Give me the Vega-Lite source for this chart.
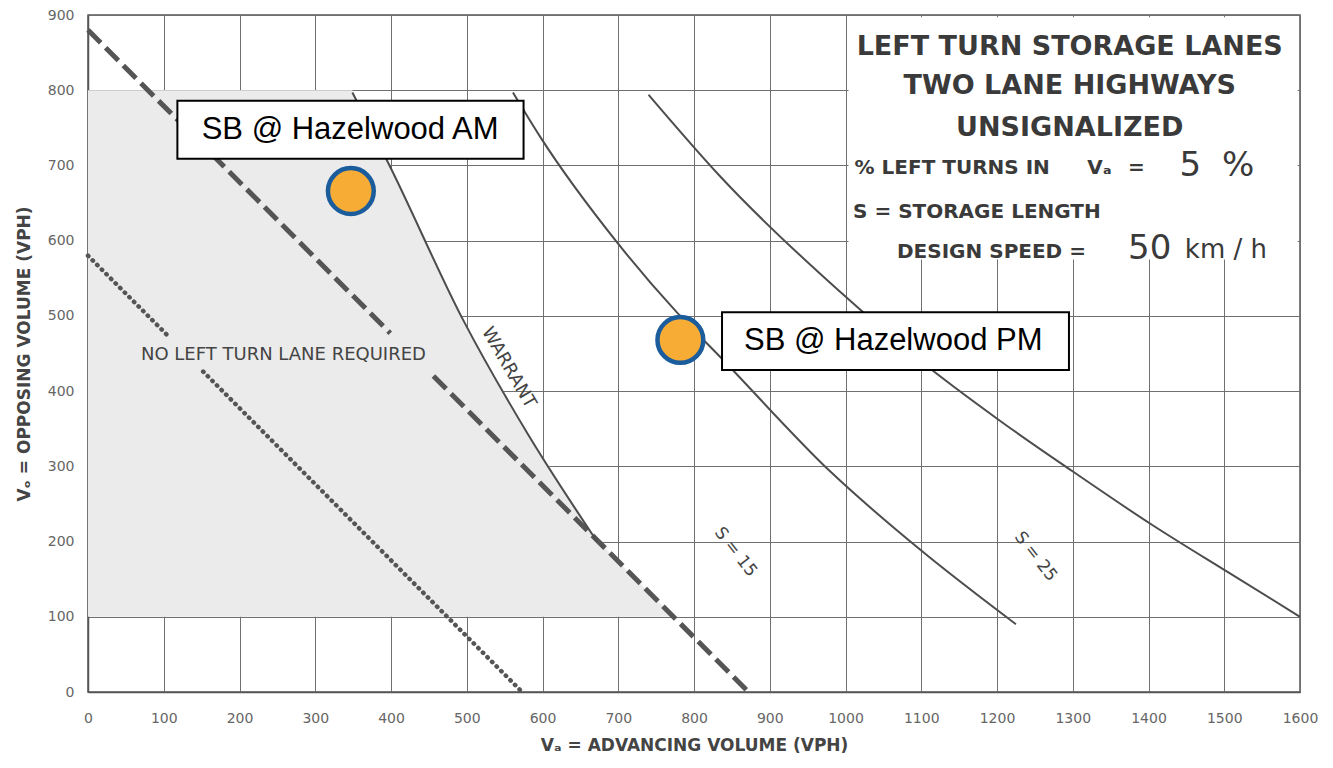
{
  "$schema": "https://vega.github.io/schema/vega-lite/v6.json",
  "width": 1212,
  "height": 677,
  "autosize": {"type": "none"},
  "padding": {"left": 88, "top": 15, "right": 33, "bottom": 76},
  "background": "white",
  "config": {"view": {"stroke": "#555", "strokeWidth": 1.5}, "font": "DejaVu Sans"},
  "datasets": {
    "block": [{"x": 1004, "xe": 1597, "y": 575, "ye": 897}],
    "stipple": [
      {"y": 100, "x": 773}, {"y": 200, "x": 674}, {"y": 344, "x": 580},
      {"y": 495, "x": 495}, {"y": 698, "x": 399}, {"y": 800, "x": 349}
    ],
    "lines": [
      {"s": "dash", "seg": "a", "x": 0, "y": 880}, {"s": "dash", "seg": "a", "x": 399, "y": 477},
      {"s": "dash", "seg": "b", "x": 456, "y": 420}, {"s": "dash", "seg": "b", "x": 872, "y": 0},
      {"s": "dot", "seg": "a", "x": 0, "y": 580}, {"s": "dot", "seg": "a", "x": 108, "y": 471},
      {"s": "dot", "seg": "b", "x": 152, "y": 426}, {"s": "dot", "seg": "b", "x": 573, "y": 0},
      {"s": "warrant", "seg": "w", "x": 349, "y": 797}, {"s": "warrant", "seg": "w", "x": 399, "y": 698},
      {"s": "warrant", "seg": "w", "x": 495, "y": 495}, {"s": "warrant", "seg": "w", "x": 580, "y": 344},
      {"s": "warrant", "seg": "w", "x": 672, "y": 200},
      {"s": "s15", "seg": "s15", "x": 561, "y": 797}, {"s": "s15", "seg": "s15", "x": 597, "y": 738},
      {"s": "s15", "seg": "s15", "x": 699, "y": 597}, {"s": "s15", "seg": "s15", "x": 778, "y": 504},
      {"s": "s15", "seg": "s15", "x": 835, "y": 445}, {"s": "s15", "seg": "s15", "x": 980, "y": 293},
      {"s": "s15", "seg": "s15", "x": 1100, "y": 188}, {"s": "s15", "seg": "s15", "x": 1225, "y": 90},
      {"s": "s25", "seg": "s25", "x": 740, "y": 794}, {"s": "s25", "seg": "s25", "x": 835, "y": 685},
      {"s": "s25", "seg": "s25", "x": 1004, "y": 522}, {"s": "s25", "seg": "s25", "x": 1103, "y": 437},
      {"s": "s25", "seg": "s25", "x": 1202, "y": 362}, {"s": "s25", "seg": "s25", "x": 1296, "y": 296},
      {"s": "s25", "seg": "s25", "x": 1405, "y": 222}, {"s": "s25", "seg": "s25", "x": 1507, "y": 158},
      {"s": "s25", "seg": "s25", "x": 1600, "y": 100}
    ],
    "notes": [
      {"kind": "title", "t": "LEFT TURN STORAGE LANES", "x": 1296, "y": 858},
      {"kind": "title", "t": "TWO LANE HIGHWAYS", "x": 1296, "y": 805},
      {"kind": "title", "t": "UNSIGNALIZED", "x": 1296, "y": 750},
      {"kind": "info", "t": "% LEFT TURNS IN", "x": 1012, "y": 697},
      {"kind": "info", "t": "Vₐ", "x": 1319, "y": 697},
      {"kind": "info", "t": "=", "x": 1373, "y": 697},
      {"kind": "big", "t": "5", "x": 1441, "y": 699},
      {"kind": "big", "t": "%", "x": 1497, "y": 699},
      {"kind": "info", "t": "S = STORAGE LENGTH", "x": 1010, "y": 638},
      {"kind": "info", "t": "DESIGN SPEED  =", "x": 1068, "y": 585},
      {"kind": "big", "t": "50", "x": 1373, "y": 589},
      {"kind": "unit", "t": "km / h", "x": 1448, "y": 587},
      {"kind": "region", "t": "NO LEFT TURN LANE REQUIRED", "x": 258, "y": 448},
      {"kind": "warrant", "t": "WARRANT", "x": 555, "y": 431},
      {"kind": "s", "t": "S = 15", "x": 855, "y": 186},
      {"kind": "s", "t": "S = 25", "x": 1251, "y": 180}
    ],
    "boxes": [
      {"name": "SB @ Hazelwood AM", "x": 118, "xe": 575, "y": 709, "ye": 786},
      {"name": "SB @ Hazelwood PM", "x": 837, "xe": 1295, "y": 428, "ye": 505}
    ],
    "boxlabels": [
      {"name": "SB @ Hazelwood AM", "x": 346, "y": 747},
      {"name": "SB @ Hazelwood PM", "x": 1063, "y": 467}
    ],
    "pts": [
      {"name": "SB @ Hazelwood AM", "x": 347, "y": 666},
      {"name": "SB @ Hazelwood PM", "x": 782, "y": 468}
    ]
  },
  "encoding": {
    "x": {
      "field": "x", "type": "quantitative",
      "scale": {"domain": [0, 1600], "nice": false, "zero": false},
      "axis": {
        "title": "Vₐ = ADVANCING VOLUME (VPH)",
        "format": "d",
        "values": [0, 100, 200, 300, 400, 500, 600, 700, 800, 900, 1000, 1100, 1200, 1300, 1400, 1500, 1600],
        "grid": true, "gridColor": "#707070", "gridWidth": 1, "gridOpacity": 1,
        "ticks": false, "domainColor": "#555", "domainWidth": 1.5,
        "labelFont": "DejaVu Sans", "labelFontSize": 14, "labelColor": "#666",
        "labelPadding": 19, "labelFlush": false, "labelOverlap": false,
        "titleFont": "DejaVu Sans", "titleFontSize": 17, "titleFontWeight": "bold",
        "titleColor": "#444", "titlePadding": 12
      }
    },
    "y": {
      "field": "y", "type": "quantitative",
      "scale": {"domain": [0, 900], "nice": false, "zero": false},
      "axis": {
        "title": "Vₒ = OPPOSING VOLUME (VPH)",
        "format": "d",
        "values": [0, 100, 200, 300, 400, 500, 600, 700, 800, 900],
        "grid": true, "gridColor": "#707070", "gridWidth": 1, "gridOpacity": 1,
        "ticks": false, "domainColor": "#555", "domainWidth": 1.5,
        "labelFont": "DejaVu Sans", "labelFontSize": 14, "labelColor": "#666",
        "labelPadding": 14, "labelFlush": false, "labelOverlap": false,
        "titleFont": "DejaVu Sans", "titleFontSize": 17, "titleFontWeight": "bold",
        "titleColor": "#444", "titlePadding": 14
      }
    }
  },
  "layer": [
    {
      "data": {"name": "block"},
      "mark": {"type": "rect", "fill": "white"},
      "encoding": {"x2": {"field": "xe"}, "y2": {"field": "ye"}}
    },
    {
      "data": {"name": "stipple"},
      "mark": {"type": "area", "orient": "horizontal", "fill": "#ebebeb"},
      "encoding": {"x2": {"datum": 0}}
    },
    {
      "data": {"name": "lines"},
      "transform": [{"filter": "datum.s === 'dash'"}],
      "mark": {"type": "line", "strokeDash": [18, 7], "strokeWidth": 5, "color": "#555"},
      "encoding": {"detail": {"field": "seg"}}
    },
    {
      "data": {"name": "lines"},
      "transform": [{"filter": "datum.s === 'dot'"}],
      "mark": {"type": "line", "strokeDash": [0.5, 6], "strokeCap": "round", "strokeWidth": 4.5, "color": "#555"},
      "encoding": {"detail": {"field": "seg"}}
    },
    {
      "data": {"name": "lines"},
      "transform": [{"filter": "datum.s !== 'dash' && datum.s !== 'dot'"}],
      "mark": {"type": "line", "interpolate": "monotone", "strokeWidth": 2, "color": "#4d4d4d"},
      "encoding": {"detail": {"field": "seg"}}
    },
    {
      "data": {"name": "notes"},
      "transform": [{"filter": "datum.kind === 'title'"}],
      "mark": {"type": "text", "fontSize": 27, "fontWeight": "bold", "color": "#3a3a3a", "align": "center", "baseline": "middle"},
      "encoding": {"text": {"field": "t"}}
    },
    {
      "data": {"name": "notes"},
      "transform": [{"filter": "datum.kind === 'info'"}],
      "mark": {"type": "text", "fontSize": 20, "fontWeight": "bold", "color": "#3a3a3a", "align": "left", "baseline": "middle"},
      "encoding": {"text": {"field": "t"}}
    },
    {
      "data": {"name": "notes"},
      "transform": [{"filter": "datum.kind === 'big'"}],
      "mark": {"type": "text", "fontSize": 34, "color": "#3a3a3a", "align": "left", "baseline": "middle"},
      "encoding": {"text": {"field": "t"}}
    },
    {
      "data": {"name": "notes"},
      "transform": [{"filter": "datum.kind === 'unit'"}],
      "mark": {"type": "text", "fontSize": 26, "color": "#3a3a3a", "align": "left", "baseline": "middle"},
      "encoding": {"text": {"field": "t"}}
    },
    {
      "data": {"name": "notes"},
      "transform": [{"filter": "datum.kind === 'region'"}],
      "mark": {"type": "text", "fontSize": 18, "color": "#444", "align": "center", "baseline": "middle"},
      "encoding": {"text": {"field": "t"}}
    },
    {
      "data": {"name": "notes"},
      "transform": [{"filter": "datum.kind === 'warrant'"}],
      "mark": {"type": "text", "fontSize": 18, "color": "#444", "align": "center", "baseline": "middle", "angle": 60},
      "encoding": {"text": {"field": "t"}}
    },
    {
      "data": {"name": "notes"},
      "transform": [{"filter": "datum.kind === 's'"}],
      "mark": {"type": "text", "fontSize": 17, "color": "#444", "align": "center", "baseline": "middle", "angle": 52},
      "encoding": {"text": {"field": "t"}}
    },
    {
      "data": {"name": "boxes"},
      "mark": {"type": "rect", "fill": "white", "stroke": "black", "strokeWidth": 2},
      "encoding": {"x2": {"field": "xe"}, "y2": {"field": "ye"}}
    },
    {
      "data": {"name": "boxlabels"},
      "mark": {"type": "text", "font": "Liberation Sans", "fontSize": 31, "color": "black", "align": "center", "baseline": "middle"},
      "encoding": {"text": {"field": "name"}}
    },
    {
      "data": {"name": "pts"},
      "mark": {"type": "point", "shape": "circle", "filled": true, "size": 2100, "fill": "#F7AC35", "stroke": "#1B5C9C", "strokeWidth": 4.5, "opacity": 1, "fillOpacity": 1, "strokeOpacity": 1},
      "encoding": {}
    }
  ]
}
